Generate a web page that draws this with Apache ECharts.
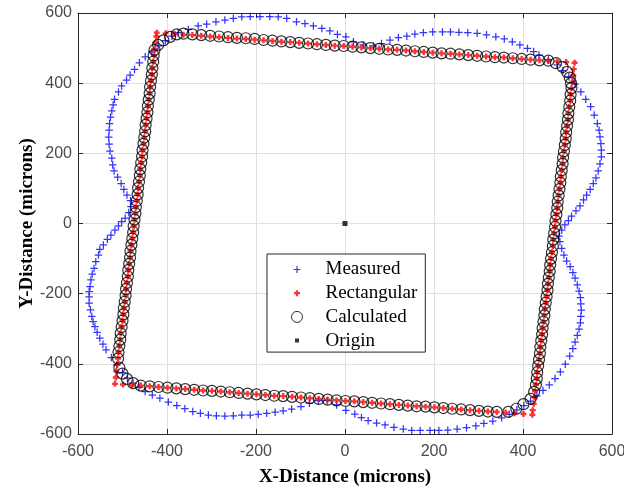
<!DOCTYPE html>
<html><head><meta charset="utf-8">
<script src="https://cdn.jsdelivr.net/npm/echarts@6/dist/echarts.min.js"></script>
<style>html,body{margin:0;padding:0;background:#fff;}#c{width:624px;height:489px;}</style>
</head><body><div id="c"></div>
<script>
const seriesNames = ['Measured', 'Rectangular', 'Calculated', 'Origin'];
const axisMin = -600, axisMax = 600, axisStep = 200;

const measured = [
[-486,31],[-481,48],[-482,65],[-490,81],[-497,97],[-503,114],[-511,132],[-519,150],[-522,167],[-524,186],[-528,206],[-530,226],[-531,246],[-530,266],[-529,285],[-527,303],[-524,321],[-521,338],[-518,354],[-509,375],[-502,392],[-491,409],[-483,423],[-473,439],[-462,458],[-449,475],[-434,489],[-420,506],[-404,521],[-389,534],[-375,544],[-352,553],[-330,563],[-311,568],[-290,575],[-270,580],[-251,585],[-232,589],[-213,590],[-191,590],[-169,590],[-150,589],[-131,585],[-109,575],[-90,570],[-71,563],[-52,556],[-34,549],[-17,539],[2,532],[19,518],[41,509],[64,506],[82,513],[101,523],[120,530],[139,534],[157,540],[176,544],[197,546],[219,546],[237,546],[256,545],[276,544],[297,542],[318,538],[339,532],[358,526],[376,518],[393,509],[410,499],[424,490],[436,480],[457,467],[477,452],[490,436],[503,418],[517,397],[530,375],[541,354],[552,333],[560,309],[567,285],[571,266],[573,247],[575,228],[576,209],[576,190],[573,170],[569,150],[564,130],[558,114],[551,97],[543,81],[536,67],[528,50],[519,36],[509,21],[502,8],[494,-4],[487,-19],[481,-36],[483,-52],[487,-71],[492,-90],[498,-107],[506,-123],[512,-140],[517,-156],[522,-175],[526,-193],[529,-211],[530,-229],[531,-247],[530,-265],[529,-283],[526,-301],[522,-319],[517,-338],[512,-357],[505,-378],[495,-401],[484,-423],[472,-442],[459,-460],[445,-476],[431,-491],[417,-506],[402,-519],[386,-531],[369,-544],[352,-554],[332,-563],[312,-570],[294,-577],[273,-582],[252,-586],[231,-589],[211,-590],[191,-590],[169,-590],[150,-590],[131,-586],[110,-581],[90,-574],[71,-569],[52,-562],[37,-553],[22,-543],[2,-533],[-19,-517],[-40,-505],[-60,-505],[-80,-512],[-99,-522],[-120,-529],[-139,-534],[-157,-538],[-176,-541],[-195,-544],[-213,-546],[-232,-546],[-251,-548],[-270,-549],[-289,-548],[-307,-546],[-325,-541],[-342,-536],[-360,-528],[-378,-519],[-397,-509],[-416,-498],[-433,-489],[-449,-479],[-463,-467],[-476,-455],[-489,-441],[-500,-425],[-513,-403],[-525,-382],[-537,-360],[-544,-344],[-551,-327],[-557,-310],[-562,-294],[-566,-280],[-569,-265],[-572,-246],[-575,-227],[-575,-209],[-575,-194],[-573,-180],[-571,-161],[-568,-144],[-564,-128],[-560,-109],[-554,-90],[-551,-74],[-543,-61],[-534,-45],[-526,-33],[-517,-19],[-509,-7],[-502,5],[-494,15]
];

const rectangular = [
[-423,544],[-403,542],[-383,540],[-363,538],[-343,537],[-323,535],[-303,533],[-283,531],[-263,529],[-243,527],[-223,526],[-203,524],[-183,522],[-163,520],[-143,518],[-123,517],[-103,515],[-83,513],[-63,511],[-43,509],[-23,507],[-3,506],[17,504],[37,502],[57,500],[77,498],[97,496],[117,495],[137,493],[157,491],[177,489],[197,487],[217,485],[237,484],[257,482],[277,480],[297,478],[317,476],[337,474],[357,473],[377,471],[397,469],[417,467],[437,465],[457,463],[477,462],[497,460],
[516,458],
[514,440],[513,422],[511,404],[509,386],[507,368],[506,350],[504,332],[502,314],[501,296],[499,278],[497,260],[496,242],[494,224],[492,206],[490,188],[489,170],[487,152],[485,134],[484,116],[482,98],[480,80],[478,62],[477,44],[475,26],[473,8],[472,-10],[470,-28],[468,-46],[467,-64],[465,-82],[463,-100],[461,-118],[460,-136],[458,-154],[456,-172],[455,-190],[453,-208],[451,-226],[449,-244],[448,-262],[446,-280],[444,-298],[443,-316],[441,-334],[439,-352],[438,-370],[436,-388],[434,-406],[432,-424],[431,-442],[429,-460],[427,-478],[426,-496],[424,-514],[422,-532],
[421,-545],
[401,-543],[381,-541],[361,-539],[341,-537],[321,-536],[301,-534],[281,-532],[261,-530],[241,-528],[221,-526],[201,-524],[181,-522],[161,-521],[141,-519],[121,-517],[101,-515],[81,-513],[61,-511],[41,-509],[21,-507],[1,-506],[-19,-504],[-39,-502],[-59,-500],[-79,-498],[-99,-496],[-119,-494],[-139,-492],[-159,-491],[-179,-489],[-199,-487],[-219,-485],[-239,-483],[-259,-481],[-279,-479],[-299,-477],[-319,-476],[-339,-474],[-359,-472],[-379,-470],[-399,-468],[-419,-466],[-439,-464],[-459,-462],[-479,-461],[-499,-459],
[-517,-457],
[-515,-439],[-514,-421],[-512,-403],[-510,-385],[-509,-367],[-507,-349],[-505,-331],[-504,-313],[-502,-295],[-500,-277],[-498,-259],[-497,-241],[-495,-223],[-493,-205],[-492,-187],[-490,-169],[-488,-151],[-487,-133],[-485,-115],[-483,-97],[-482,-79],[-480,-61],[-478,-43],[-476,-25],[-475,-7],[-473,11],[-471,29],[-470,47],[-468,65],[-466,83],[-465,101],[-463,119],[-461,137],[-460,155],[-458,173],[-456,191],[-455,209],[-453,227],[-451,245],[-449,263],[-448,281],[-446,299],[-444,317],[-443,335],[-441,353],[-439,371],[-438,389],[-436,407],[-434,425],[-433,443],[-431,461],[-429,479],[-427,497],[-426,515],[-424,533]
];

const calculated = [
[-428,495],[-420,509],[-408,522],[-393,532],[-378,539],
[-363,541],[-343,539],[-323,537],[-303,535],[-283,533],[-263,531],[-243,529],[-223,528],[-203,526],[-183,523],[-163,521],[-143,519],[-123,517],[-103,515],[-83,513],[-63,511],[-43,509],[-23,507],[-3,506],[17,504],[37,502],[57,500],[77,498],[97,496],[117,495],[137,493],[157,491],[177,489],[197,487],[217,485],[237,484],[257,482],[277,480],[297,478],[317,476],[337,474],[357,473],[377,471],[397,469],[417,467],[437,465],[457,464],
[474,457],[489,446],[499,432],[505,416],[508,400],
[509,386],[507,368],[506,350],[504,332],[502,314],[501,296],[499,278],[497,260],[496,242],[494,224],[492,206],[490,188],[489,170],[487,152],[485,134],[484,116],[482,98],[480,80],[478,62],[477,44],[475,26],[473,8],[472,-10],[470,-28],[468,-46],[467,-64],[465,-82],[463,-100],[461,-118],[460,-136],[458,-154],[456,-172],[455,-190],[453,-208],[451,-226],[449,-244],[448,-262],[446,-280],[444,-298],[443,-316],[441,-334],[439,-352],[438,-370],[436,-388],[434,-406],[432,-424],[431,-442],[429,-460],
[425,-480],[417,-500],[401,-515],[385,-528],[367,-537],
[341,-537],[321,-536],[301,-534],[281,-532],[261,-530],[241,-528],[221,-526],[201,-524],[181,-522],[161,-521],[141,-519],[121,-517],[101,-515],[81,-513],[61,-511],[41,-509],[21,-507],[1,-506],[-19,-504],[-39,-502],[-59,-500],[-79,-498],[-99,-496],[-119,-494],[-139,-492],[-159,-491],[-179,-489],[-199,-487],[-219,-485],[-239,-483],[-259,-481],[-279,-479],[-299,-477],[-319,-476],[-339,-474],[-359,-472],[-379,-470],[-399,-468],[-419,-466],[-439,-464],[-459,-462],
[-476,-455],[-490,-443],[-500,-428],[-507,-411],
[-510,-385],[-509,-367],[-507,-349],[-505,-331],[-504,-313],[-502,-295],[-500,-277],[-498,-259],[-497,-241],[-495,-223],[-493,-205],[-492,-187],[-490,-169],[-488,-151],[-487,-133],[-485,-115],[-483,-97],[-482,-79],[-480,-61],[-478,-43],[-476,-25],[-475,-7],[-473,11],[-471,29],[-470,47],[-468,65],[-466,83],[-465,101],[-463,119],[-461,137],[-460,155],[-458,173],[-456,191],[-455,209],[-453,227],[-451,245],[-449,263],[-448,281],[-446,299],[-444,317],[-443,335],[-441,353],[-439,371],[-438,389],[-436,407],[-434,425],[-433,443],[-431,461],[-430,479]
];

const origin = [[0, 0]];

const plusPath = 'path://M5,0H7V5H12V7H7V12H5V7H0V5H5Z';
const redPath = 'path://M3.6,0H8.4V3.6H12V8.4H8.4V12H3.6V8.4H0V3.6H3.6Z';
const pad = 'M0,0L0.01,0L0,0.01Z M22,22L21.99,22L22,21.99Z ';
const legPlus = 'path://' + pad + 'M4,9.8H18V12.2H4Z M9.8,4H12.2V18H9.8Z';
const legRed = 'path://' + pad + 'M5,8.8H17V13.2H5Z M8.8,5H13.2V17H8.8Z';
const legSquare = 'path://' + pad + 'M7,7H15V15H7Z';

const axisColor = '#262626';
const gridColor = '#e0e0e0';
const titleFont = {fontFamily: 'Liberation Serif, Times New Roman, serif', fontWeight: 'bold', fontSize: 19, color: '#000'};
const labelFont = {fontFamily: 'Liberation Sans, Arial, sans-serif', fontSize: 16, color: '#4a4a4a'};

function mainAxis(pos, name, gap, margin) {
  return {
    type: 'value', position: pos, min: axisMin, max: axisMax, interval: axisStep,
    name: name, nameLocation: 'middle', nameGap: gap, nameTextStyle: titleFont, nameMoveOverlap: false,
    axisLine: {show: true, onZero: false, lineStyle: {color: axisColor, width: 1}},
    axisTick: {show: true, inside: true, length: 5, lineStyle: {color: axisColor}},
    axisLabel: Object.assign({margin: margin}, labelFont),
    splitLine: {show: true, lineStyle: {color: gridColor, width: 1}}
  };
}
function boxAxis(pos) {
  return {
    type: 'value', position: pos, min: axisMin, max: axisMax, interval: axisStep,
    axisLine: {show: true, onZero: false, lineStyle: {color: axisColor, width: 1}},
    axisTick: {show: true, inside: true, length: 5, lineStyle: {color: axisColor}},
    axisLabel: {show: false}, splitLine: {show: false}
  };
}

const chart = echarts.init(document.getElementById('c'), null, {renderer: 'canvas'});
chart.setOption({
  animation: false,
  backgroundColor: '#fff',
  grid: {left: 78, right: 12, top: 13, bottom: 55, containLabel: false, outerBoundsMode: 'none'},
  xAxis: [mainAxis('bottom', 'X-Distance (microns)', 34, 10), boxAxis('top')],
  yAxis: [mainAxis('left', 'Y-Distance (microns)', 41, 6), boxAxis('right')],
  legend: {
    orient: 'vertical', left: 267, top: 254,
    itemWidth: 11, itemHeight: 11, itemGap: 4.7,
    padding: [6, 8, 2, 24],
    backgroundColor: '#fff', borderColor: axisColor, borderWidth: 1,
    selectedMode: false,
    textStyle: {fontFamily: 'Liberation Serif, Times New Roman, serif', fontSize: 19, color: '#000', lineHeight: 19, padding: [0, 0, 0, 18]},
    data: [
      {name: seriesNames[0], icon: legPlus, itemStyle: {color: '#0000ff'}},
      {name: seriesNames[1], icon: legRed, itemStyle: {color: '#ff0000'}},
      {name: seriesNames[2], icon: 'circle', itemStyle: {color: 'rgba(0,0,0,0)', borderColor: '#000', borderWidth: 1}},
      {name: seriesNames[3], icon: legSquare, itemStyle: {color: '#000'}}
    ]
  },
  series: [
    {name: seriesNames[0], type: 'scatter', data: measured, symbol: plusPath, symbolSize: 7.5, silent: true, z: 2, itemStyle: {color: '#0000ff'}},
    {name: seriesNames[1], type: 'scatter', data: rectangular, symbol: redPath, symbolSize: 6, silent: true, z: 3, itemStyle: {color: '#ff0000'}},
    {name: seriesNames[2], type: 'scatter', data: calculated, symbol: 'circle', symbolSize: 11, silent: true, z: 4, itemStyle: {color: 'rgba(0,0,0,0)', borderColor: '#000', borderWidth: 1.2}},
    {name: seriesNames[3], type: 'scatter', data: origin, symbol: 'rect', symbolSize: 5, silent: true, z: 5, itemStyle: {color: '#000'}}
  ]
});
</script>
</body></html>
